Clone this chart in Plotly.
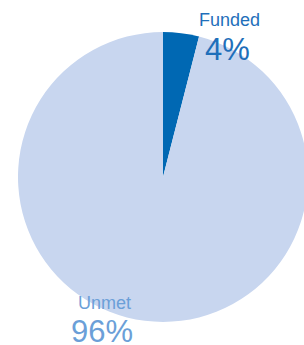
import plotly.graph_objects as go

categories = ["Funded", "Unmet"]
values = [4, 96]
slice_colors = ["#0068b3", "#c8d6ef"]
text_colors = ["#1f6fba", "#6b9fd8"]

W, H = 312, 345
cx, cy, r = 163, 177, 145

fig = go.Figure(go.Pie(
    labels=categories,
    values=values,
    sort=False,
    direction="clockwise",
    rotation=0,
    marker=dict(colors=slice_colors, line=dict(width=0)),
    textinfo="none",
    hoverinfo="label+percent",
    showlegend=False,
    domain=dict(x=[(cx - r) / W, (cx + r) / W], y=[1 - (cy + r) / H, 1 - (cy - r) / H]),
))

total = sum(values)
pct = [f"{round(v / total * 100)}%" for v in values]

font = "Liberation Sans, Arial, sans-serif"
label_pos = {"Funded": (229.5, 20, 227.5, 50), "Unmet": (104, 303, 102, 331)}
for i, cat in enumerate(categories):
    lx, ly, px, py = label_pos[cat]
    fig.add_annotation(x=lx / W, y=1 - ly / H, xref="paper", yref="paper", text=cat,
                       showarrow=False, font=dict(family=font, size=18, color=text_colors[i]),
                       xanchor="center", yanchor="middle")
    fig.add_annotation(x=px / W, y=1 - py / H, xref="paper", yref="paper", text=pct[i],
                       showarrow=False, font=dict(family=font, size=31, color=text_colors[i]),
                       xanchor="center", yanchor="middle")

fig.update_layout(
    width=W, height=H, autosize=False,
    margin=dict(l=0, r=0, t=0, b=0),
    paper_bgcolor="white", plot_bgcolor="white",
)

fig.write_html("out.html", config={"displayModeBar": False},
               post_script="document.body.style.margin='0';document.body.style.overflow='hidden';document.documentElement.style.overflow='hidden';")
